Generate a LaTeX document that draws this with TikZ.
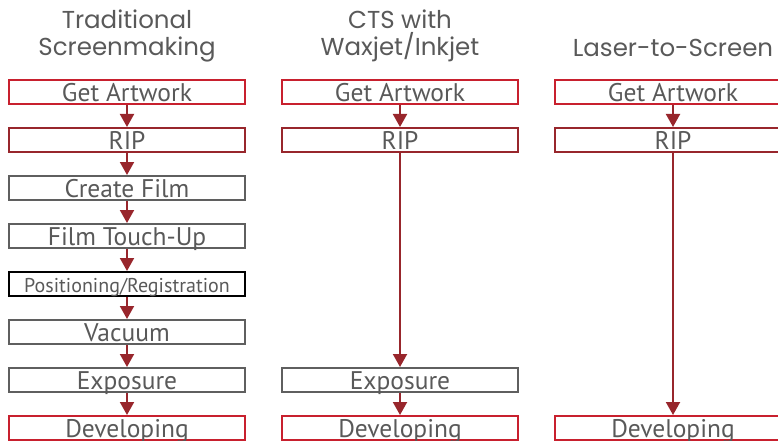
\documentclass[tikz,border=0pt]{standalone}
\usepackage{fontspec}
\setmainfont{PT Sans}
\newfontfamily\titlefont{Poppins}
\usetikzlibrary{arrows.meta,positioning}
\definecolor{brightred}{RGB}{200,32,46}
\definecolor{darkred}{RGB}{152,38,44}
\definecolor{boxgray}{RGB}{95,95,95}
\definecolor{textgray}{RGB}{89,89,89}

\begin{document}
\begin{tikzpicture}[x=1pt,y=-1pt,
   step box/.style={draw,line width=2pt,minimum width=236pt,minimum height=24pt,
      inner sep=0pt,text height=19pt,text depth=0pt,text=textgray,
      font=\fontsize{25.5}{25}\selectfont},
   red box/.style={step box,draw=brightred},
   rip box/.style={step box,draw=darkred},
   gray box/.style={step box,draw=boxgray},
   title/.style={align=center,text=textgray,inner sep=0pt,
      font=\titlefont\fontsize{24.5}{27}\selectfont},
   flow/.style={draw=darkred,line width=2pt,-{Triangle[width=14pt,length=13pt]}}]
\clip (0,0) rectangle (778,441);
% column titles
\node[title,anchor=south] (ttrad) at (127,62) {Traditional\\Screenmaking};
\node[title,anchor=south] (tcts) at (400,62) {CTS with\\Waxjet/Inkjet};
\node[title,anchor=base] (tlaser) at (673,57) {Laser-to-Screen};
% traditional
\node[red box] (t1) at (127,92) {Get Artwork};
\node[rip box] (t2) at (127,140) {RIP};
\node[gray box] (t3) at (127,188) {Create Film};
\node[gray box] (t4) at (127,236) {Film Touch-Up};
\node[step box,draw=black,font=\fontsize{20}{20}\selectfont,text height=16pt] (t5) at (127,284) {Positioning/Registration};
\node[gray box] (t6) at (127,332) {Vacuum};
\node[gray box] (t7) at (127,380) {Exposure};
\node[red box] (t8) at (127,428) {Developing};
% cts
\node[red box] (c1) at (400,92) {Get Artwork};
\node[rip box] (c2) at (400,140) {RIP};
\node[gray box] (c7) at (400,380) {Exposure};
\node[red box] (c8) at (400,428) {Developing};
% laser
\node[red box] (l1) at (673,92) {Get Artwork};
\node[rip box] (l2) at (673,140) {RIP};
\node[red box] (l8) at (673,428) {Developing};
% arrows
\foreach \a/\b in {t1/t2,t2/t3,t3/t4,t4/t5,t5/t6,t6/t7,t7/t8,c1/c2,c2/c7,c7/c8,l1/l2,l2/l8}
   \draw[flow] (\a) -- (\b);
\end{tikzpicture}
\end{document}
